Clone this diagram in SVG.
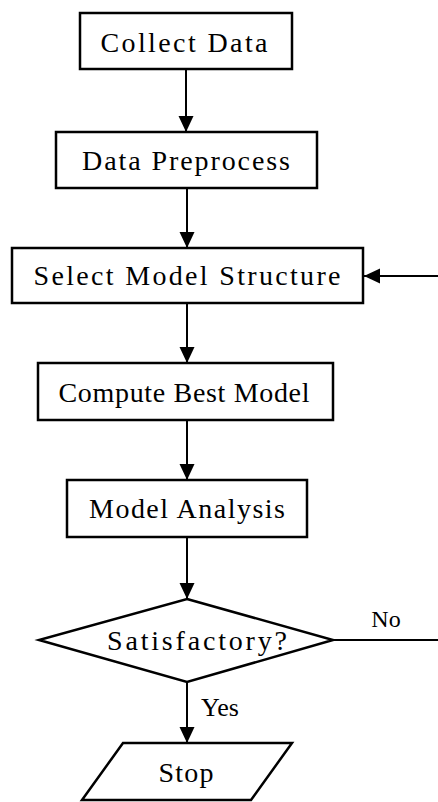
<svg xmlns="http://www.w3.org/2000/svg" width="438" height="802" viewBox="0 0 438 802">
<style>
.shape{fill:#fff;stroke:#000;stroke-width:2.5}
.conn{fill:none;stroke:#000;stroke-width:2}
.t{font-family:"Liberation Serif","Times New Roman",serif;font-size:28px;fill:#000;text-anchor:middle}
</style>
<defs>
<marker id="ah" markerUnits="userSpaceOnUse" markerWidth="16" markerHeight="16" refX="16" refY="7.5" orient="auto" viewBox="0 0 16 15">
<path d="M0,0 L16,7.5 L0,15 z" fill="#000"/>
</marker>
</defs>
<g id="connectors">
<line class="conn" x1="186" y1="69" x2="186" y2="132" marker-end="url(#ah)"/>
<line class="conn" x1="187" y1="188" x2="187" y2="248" marker-end="url(#ah)"/>
<line class="conn" x1="187" y1="303" x2="187" y2="363" marker-end="url(#ah)"/>
<line class="conn" x1="187" y1="420" x2="187" y2="480" marker-end="url(#ah)"/>
<line class="conn" x1="187" y1="537" x2="187" y2="599" marker-end="url(#ah)"/>
<line class="conn" x1="187" y1="682" x2="187" y2="743" marker-end="url(#ah)"/>
<line class="conn" x1="333" y1="640" x2="438" y2="640"/>
<line class="conn" x1="438" y1="276" x2="364" y2="276" marker-end="url(#ah)"/>
<text class="t" x="386" y="627" style="font-size:24px">No</text>
<text class="t" x="220" y="716" style="font-size:26px">Yes</text>
</g>
<g id="collect">
<rect class="shape" x="80" y="13" width="212" height="56"/>
<text class="t" x="184" y="52" textLength="167" lengthAdjust="spacing">Collect Data</text>
</g>
<g id="preprocess">
<rect class="shape" x="56" y="132" width="261" height="56"/>
<text class="t" x="186" y="170" textLength="208" lengthAdjust="spacing">Data Preprocess</text>
</g>
<g id="select">
<rect class="shape" x="12" y="248" width="351" height="55"/>
<text class="t" x="187" y="285" textLength="307" lengthAdjust="spacing">Select Model Structure</text>
</g>
<g id="compute">
<rect class="shape" x="38" y="363" width="295" height="57"/>
<text class="t" x="184" y="402" textLength="251" lengthAdjust="spacing">Compute Best Model</text>
</g>
<g id="analysis">
<rect class="shape" x="67" y="480" width="240" height="57"/>
<text class="t" x="187" y="518" textLength="196" lengthAdjust="spacing">Model Analysis</text>
</g>
<g id="decision">
<polygon class="shape" points="187,599 333,640 187,682 39,640"/>
<text class="t" x="197" y="650" textLength="180" lengthAdjust="spacing">Satisfactory?</text>
</g>
<g id="stop">
<polygon class="shape" points="123,743 292,743 251,800 82,800"/>
<text class="t" x="186" y="782" textLength="55" lengthAdjust="spacing">Stop</text>
</g>
</svg>
